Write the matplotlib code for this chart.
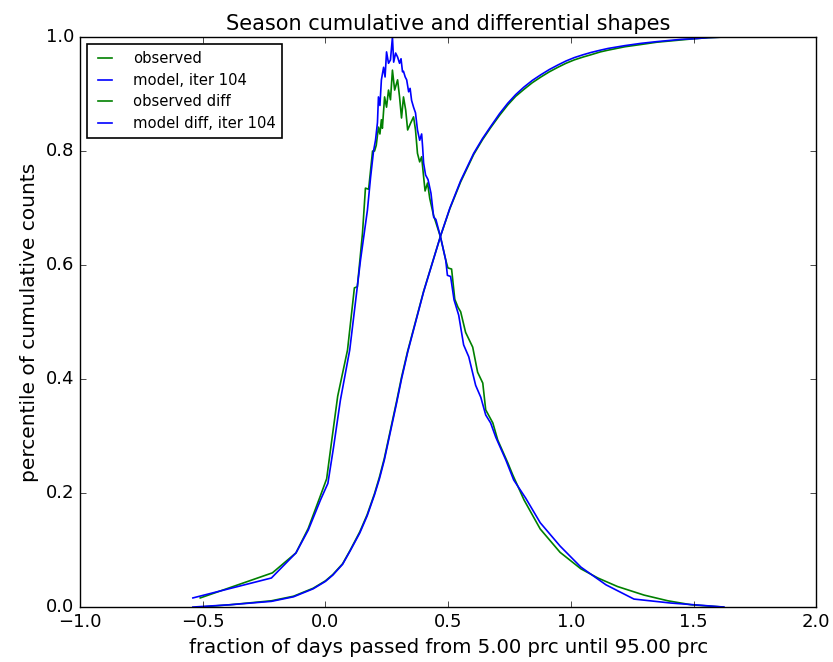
import numpy as np
import matplotlib
matplotlib.use('Agg')
import matplotlib.pyplot as plt

plt.style.use('classic')
matplotlib.rcParams['font.family'] = 'DejaVu Sans'
matplotlib.rcParams['axes.unicode_minus'] = True

# ------------------------------------------------------------
# data
# ------------------------------------------------------------
# cumulative shape
cum_mod_x = [-0.54, -0.39, -0.22, -0.13, -0.05, 0.0, 0.03, 0.07, 0.10, 0.14, 0.17, 0.20,
             0.22, 0.24, 0.265, 0.29, 0.31, 0.335, 0.40, 0.469, 0.507, 0.551, 0.604, 0.64,
             0.673, 0.71, 0.743, 0.775, 0.808, 0.843, 0.878, 0.912, 0.947, 0.98, 1.014,
             1.05, 1.082, 1.12, 1.151, 1.22, 1.286, 1.35, 1.40, 1.45, 1.50, 1.56, 1.62]
cum_mod_y = [0.0, 0.004, 0.010, 0.018, 0.032, 0.045, 0.056, 0.075, 0.098, 0.13, 0.16, 0.197,
             0.225, 0.258, 0.308, 0.358, 0.40, 0.447, 0.553, 0.651, 0.70, 0.748, 0.796, 0.822,
             0.843, 0.866, 0.884, 0.899, 0.912, 0.924, 0.934, 0.943, 0.951, 0.958, 0.964,
             0.969, 0.973, 0.977, 0.980, 0.985, 0.989, 0.992, 0.994, 0.996, 0.997, 0.999, 1.0]
cum_obs_x = [-0.51, -0.39, -0.22, -0.13, -0.05, 0.0, 0.03, 0.07, 0.10, 0.14, 0.17, 0.20,
             0.22, 0.24, 0.265, 0.29, 0.31, 0.335, 0.40, 0.469, 0.507, 0.551, 0.604, 0.64,
             0.673, 0.71, 0.743, 0.775, 0.808, 0.843, 0.878, 0.912, 0.947, 0.98, 1.014,
             1.05, 1.082, 1.12, 1.151, 1.22, 1.286, 1.35, 1.40, 1.45, 1.50, 1.56, 1.62]
cum_obs_y = [0.0, 0.004, 0.011, 0.019, 0.033, 0.046, 0.057, 0.076, 0.099, 0.132, 0.162, 0.199,
             0.228, 0.261, 0.311, 0.361, 0.403, 0.449, 0.554, 0.651, 0.699, 0.746, 0.794, 0.820,
             0.841, 0.863, 0.881, 0.896, 0.908, 0.920, 0.930, 0.939, 0.947, 0.954, 0.960,
             0.965, 0.969, 0.974, 0.977, 0.983, 0.987, 0.991, 0.993, 0.995, 0.997, 0.999, 1.0]

# differential shape
dif_mod_x = [-0.54, -0.22, -0.12, -0.07, -0.02, 0.01, 0.033, 0.061, 0.099, 0.143, 0.171,
             0.184, 0.196, 0.204, 0.212, 0.216, 0.222, 0.228, 0.237, 0.243, 0.249, 0.257,
             0.265, 0.273, 0.278, 0.286, 0.294, 0.302, 0.308, 0.314, 0.318, 0.325, 0.331,
             0.339, 0.345, 0.351, 0.359, 0.367, 0.375, 0.384, 0.392, 0.396, 0.40, 0.408,
             0.418, 0.43, 0.441, 0.45, 0.469, 0.49, 0.497, 0.51, 0.524, 0.543, 0.563,
             0.584, 0.612, 0.633, 0.653, 0.673, 0.694, 0.735, 0.767, 0.816, 0.875, 0.956,
             1.041, 1.143, 1.257, 1.408, 1.502, 1.624]
dif_mod_y = [0.016, 0.051, 0.095, 0.135, 0.188, 0.217, 0.28, 0.363, 0.451, 0.609, 0.696,
             0.754, 0.80, 0.819, 0.85, 0.895, 0.88, 0.925, 0.947, 0.93, 0.974, 0.954,
             0.96, 1.0, 0.956, 0.972, 0.965, 0.954, 0.962, 0.939, 0.94, 0.93, 0.925,
             0.904, 0.91, 0.889, 0.877, 0.867, 0.837, 0.819, 0.83, 0.807, 0.779, 0.758,
             0.75, 0.726, 0.684, 0.68, 0.649, 0.609, 0.582, 0.58, 0.539, 0.512, 0.46,
             0.439, 0.389, 0.368, 0.337, 0.323, 0.298, 0.258, 0.223, 0.191, 0.148, 0.107,
             0.07, 0.039, 0.014, 0.007, 0.004, 0.0]
dif_obs_x = [-0.51, -0.216, -0.12, -0.07, -0.025, 0.005, 0.025, 0.05, 0.09, 0.118, 0.13,
             0.151, 0.163, 0.176, 0.192, 0.2, 0.207, 0.216, 0.222, 0.228, 0.232, 0.241,
             0.249, 0.257, 0.265, 0.273, 0.282, 0.294, 0.302, 0.31, 0.318, 0.327, 0.335,
             0.347, 0.359, 0.367, 0.375, 0.384, 0.392, 0.40, 0.406, 0.416, 0.425, 0.44,
             0.469, 0.49, 0.499, 0.514, 0.527, 0.54, 0.551, 0.571, 0.60, 0.62, 0.641,
             0.653, 0.682, 0.702, 0.743, 0.763, 0.809, 0.875, 0.956, 1.041, 1.11, 1.19,
             1.298, 1.395, 1.49, 1.62]
dif_obs_y = [0.016, 0.06, 0.095, 0.138, 0.19, 0.225, 0.29, 0.37, 0.451, 0.56, 0.562,
             0.656, 0.735, 0.733, 0.80, 0.80, 0.81, 0.842, 0.83, 0.855, 0.84, 0.895,
             0.877, 0.907, 0.89, 0.942, 0.907, 0.925, 0.895, 0.858, 0.895, 0.872, 0.837,
             0.849, 0.86, 0.837, 0.796, 0.781, 0.79, 0.755, 0.73, 0.744, 0.717, 0.688,
             0.649, 0.609, 0.595, 0.593, 0.54, 0.526, 0.518, 0.482, 0.456, 0.412, 0.393,
             0.346, 0.323, 0.293, 0.253, 0.232, 0.188, 0.137, 0.096, 0.067, 0.051, 0.036,
             0.021, 0.011, 0.004, 0.0]

ITER = 104

# ------------------------------------------------------------
# plot
# ------------------------------------------------------------
fig = plt.figure(figsize=(8.33, 6.62), dpi=100, facecolor='white')
ax = fig.add_axes([0.096, 0.083, 0.884, 0.861])
ax.set_facecolor('white')

ax.plot(cum_obs_x, cum_obs_y, color='g', lw=1.2, label='observed')
ax.plot(cum_mod_x, cum_mod_y, color='b', lw=1.2, label=f'model, iter {ITER}')
ax.plot(dif_obs_x, dif_obs_y, color='g', lw=1.2, label='observed diff')
ax.plot(dif_mod_x, dif_mod_y, color='b', lw=1.2, label=f'model diff, iter {ITER}')

ax.set_xlim(-1.0, 2.0)
ax.set_ylim(0.0, 1.0)
ax.set_xticks(np.arange(-1.0, 2.01, 0.5))
ax.set_yticks(np.arange(0.0, 1.01, 0.2))
ax.tick_params(labelsize=13)

ax.set_title('Season cumulative and differential shapes', fontsize=15)
ax.set_xlabel('fraction of days passed from 5.00 prc until 95.00 prc', fontsize=14.2)
ax.set_ylabel('percentile of cumulative counts', fontsize=14.5)

leg = ax.legend(loc='upper left', fontsize=10.6, borderaxespad=0.5, borderpad=0.45,
                handlelength=1.5, handletextpad=1.15, labelspacing=0.45)
leg.get_frame().set_edgecolor('black')
leg.get_frame().set_linewidth(1.2)

fig.savefig('out.png', dpi=100, facecolor='white')
